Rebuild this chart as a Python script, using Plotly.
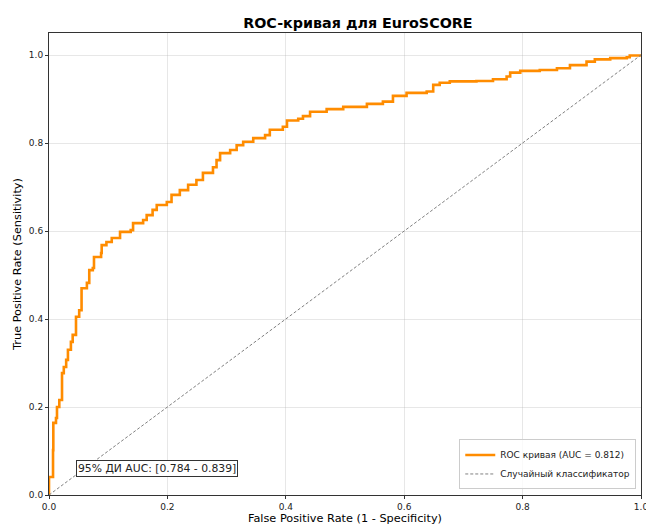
import plotly.graph_objects as go

# ROC curve vertices
fpr = [0.0, 0.0, 0.0068, 0.0073, 0.0118, 0.0135, 0.0174, 0.022, 0.025, 0.029, 0.032,
       0.037, 0.040, 0.0456, 0.051, 0.055, 0.064, 0.068, 0.074, 0.076, 0.088, 0.089,
       0.097, 0.106, 0.120, 0.138, 0.142, 0.159, 0.165, 0.175, 0.182, 0.199, 0.207,
       0.221, 0.235, 0.249, 0.260, 0.277, 0.283, 0.289, 0.306, 0.317, 0.328, 0.345,
       0.365, 0.373, 0.395, 0.402, 0.421, 0.429, 0.441, 0.469, 0.497, 0.537, 0.564,
       0.581, 0.604, 0.638, 0.649, 0.660, 0.677, 0.722, 0.750, 0.773, 0.779, 0.796,
       0.829, 0.858, 0.880, 0.908, 0.922, 0.948, 0.976, 0.981, 1.0]
tpr = [0.0, 0.041, 0.102, 0.164, 0.175, 0.200, 0.216, 0.277, 0.291, 0.307, 0.330,
       0.348, 0.364, 0.405, 0.420, 0.470, 0.482, 0.511, 0.516, 0.541, 0.550, 0.568,
       0.575, 0.584, 0.598, 0.602, 0.618, 0.625, 0.636, 0.648, 0.659, 0.666, 0.682,
       0.693, 0.705, 0.716, 0.732, 0.745, 0.761, 0.777, 0.784, 0.795, 0.803, 0.811,
       0.818, 0.830, 0.837, 0.851, 0.855, 0.861, 0.871, 0.877, 0.882, 0.889, 0.894,
       0.907, 0.914, 0.917, 0.932, 0.937, 0.940, 0.941, 0.945, 0.951, 0.960, 0.964,
       0.966, 0.970, 0.977, 0.985, 0.990, 0.993, 0.995, 0.999, 1.0]

diag = [0.0, 1.0]
auc = 0.812
ci_low, ci_high = 0.784, 0.839
ticks = [0.0, 0.2, 0.4, 0.6, 0.8, 1.0]
tick_text = ["0.0", "0.2", "0.4", "0.6", "0.8", "1.0"]

FONT = "DejaVu Sans"

fig = go.Figure()
fig.add_trace(go.Scatter(
    x=fpr, y=tpr, mode="lines", line=dict(color="#ff8c00", width=2.6, shape="hv"),
    name=f"ROC кривая (AUC = {auc:.3f})"))
fig.add_trace(go.Scatter(
    x=diag, y=diag, mode="lines", line=dict(color="gray", width=1, dash="3px,2px"),
    name="Случайный классификатор"))

axis_common = dict(
    showgrid=True, gridcolor="rgba(176,176,176,0.3)", gridwidth=1,
    showline=True, linecolor="#333", linewidth=1, mirror=True,
    ticks="outside", ticklen=3, tickcolor="#333",
    tickvals=ticks, ticktext=tick_text,
    tickfont=dict(family=FONT, size=9, color="#222"),
    zeroline=False, automargin=False,
)

fig.update_layout(
    width=646, height=525,
    margin=dict(l=49, r=5, t=33, b=30),
    paper_bgcolor="white", plot_bgcolor="white",
    title=dict(text="<b>ROC-кривая для EuroSCORE</b>", x=0.554, xanchor="center",
               y=0.956, yanchor="middle",
               font=dict(family=FONT, size=14.3, color="black")),
    xaxis=dict(range=[0, 1], ticklabeloverflow="allow",
               title=dict(text="False Positive Rate (1 - Specificity)",
               font=dict(family=FONT, size=11.3, color="black"), standoff=2), **axis_common),
    yaxis=dict(range=[0, 1.05], title=dict(text="True Positive Rate (Sensitivity)",
               font=dict(family=FONT, size=11.3, color="black"), standoff=4), **axis_common),
    legend=dict(x=0.992, y=0.012, xanchor="right", yanchor="bottom",
                bgcolor="rgba(255,255,255,0.8)", bordercolor="#ccc", borderwidth=1,
                font=dict(family=FONT, size=9, color="#222"),
                tracegroupgap=0, itemwidth=30),
    showlegend=True,
)

fig.add_annotation(
    xref="paper", yref="paper", x=0.046, y=0.04, xanchor="left", yanchor="bottom",
    text=f"95% ДИ AUC: [{ci_low:.3f} - {ci_high:.3f}]", showarrow=False,
    font=dict(family=FONT, size=10.8, color="#222"),
    bgcolor="white", bordercolor="#333", borderwidth=1, borderpad=1,
)

fig.write_html("out.html", config={"displayModeBar": False},
               post_script="document.body.style.margin='0px';")
